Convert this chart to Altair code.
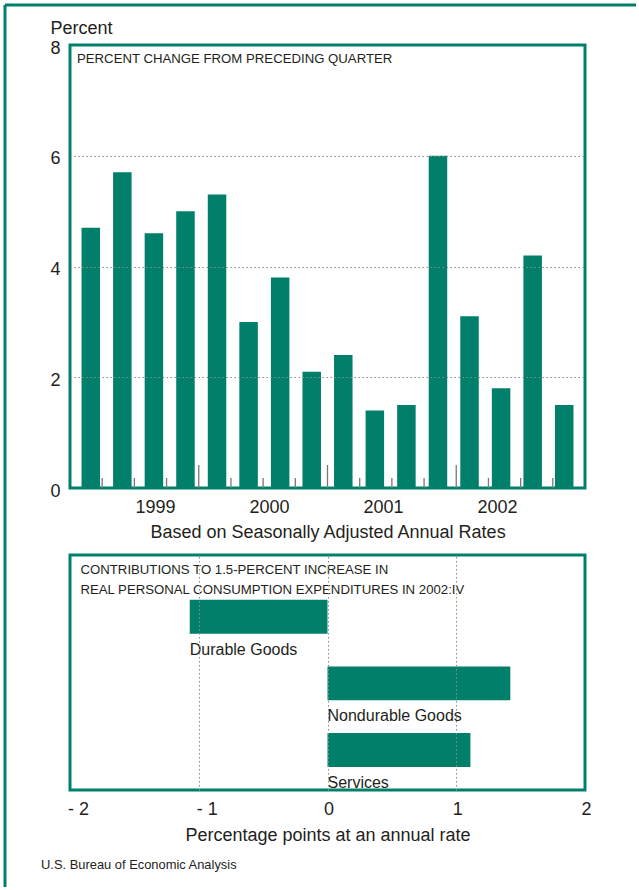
import altair as alt
import pandas as pd

GREEN = "#00806A"
INK = "#231F20"
GRID = "#8A8A8A"
TICK = "#777777"
FONT = "Liberation Sans"

# Real PCE, percent change from preceding quarter (annual rate)
quarters = [
    "1999:I", "1999:II", "1999:III", "1999:IV",
    "2000:I", "2000:II", "2000:III", "2000:IV",
    "2001:I", "2001:II", "2001:III", "2001:IV",
    "2002:I", "2002:II", "2002:III", "2002:IV",
]
pct_change = [4.7, 5.7, 4.6, 5.0, 5.3, 3.0, 3.8, 2.1,
              2.4, 1.4, 1.5, 6.0, 3.1, 1.8, 4.2, 1.5]
years = [1999, 2000, 2001, 2002]
pct_ticks = [0, 2, 4, 6, 8]

# Contributions to the 2002:IV increase, percentage points
components = ["Durable Goods", "Nondurable Goods", "Services"]
contributions = [-1.07, 1.42, 1.11]
point_ticks = [-2, -1, 0, 1, 2]

W = 515
H_TOP = 443
H_BOT = 235

n_q = len(quarters)
qdf = pd.DataFrame({"quarter": quarters, "pct": pct_change})
qdf["mid"] = [i + 0.5 for i in range(n_q)]

edges = pd.DataFrame({"edge": list(range(1, n_q))})
edges["year_start"] = edges["edge"] % 4 == 0

slot_scale = alt.Scale(domain=[0, n_q], nice=False, zero=False)


def grid_hide(a, b):
    return {
        "condition": {"test": f"datum.value == {a} || datum.value == {b}", "value": 0},
        "value": 1,
    }


bars = alt.Chart(qdf).mark_bar(width=18.5, color=GREEN).encode(
    x=alt.X("mid:Q", scale=slot_scale, axis=None),
    y=alt.Y(
        "pct:Q",
        scale=alt.Scale(domain=[0, 8], nice=False),
        axis=alt.Axis(
            values=pct_ticks, title="Percent", titleAngle=0, titleAlign="left",
            titleBaseline="alphabetic", titleX=-20, titleY=-12,
            titleFontSize=18, titleFontWeight="normal",
            labelFontSize=18, labelPadding=10, labelOffset=3,
            ticks=False, tickSize=0, domain=False,
            grid=True, gridColor=GRID, gridDash=[1.5, 2.5], gridWidth=1,
            gridOpacity=grid_hide(0, 8), zindex=1,
        ),
    ),
)

short_ticks = alt.Chart(edges[~edges["year_start"]]).mark_rule(
    color=TICK, strokeWidth=1.3
).encode(
    x=alt.X("edge:Q", scale=slot_scale, axis=None),
    y=alt.value(H_TOP), y2=alt.value(H_TOP - 10),
)

year_ticks = alt.Chart(edges[edges["year_start"]]).mark_rule(
    color=TICK, strokeWidth=1.3
).encode(
    x=alt.X("edge:Q", scale=slot_scale, axis=None),
    y=alt.value(H_TOP), y2=alt.value(H_TOP - 23),
)

# Year labels sit on their own linear scale along the bottom edge
year_axis = alt.Chart(pd.DataFrame({"year": years})).mark_text(text="").encode(
    x=alt.X(
        "year:Q",
        scale=alt.Scale(domain=[1998.254, 2002.772], nice=False, zero=False),
        axis=alt.Axis(
            orient="bottom", values=years, format="d",
            labelFontSize=18, labelPadding=10, labelFlush=False,
            ticks=False, tickSize=0, domain=False, grid=False,
            title="Based on Seasonally Adjusted Annual Rates",
            titleFontSize=18, titleFontWeight="normal", titlePadding=7,
        ),
    ),
)

top_heading = alt.Chart(pd.DataFrame({"t": ["PERCENT CHANGE FROM PRECEDING QUARTER"]})).mark_text(
    align="left", baseline="middle", font=FONT, fontSize=13.2, color=INK
).encode(x=alt.value(7), y=alt.value(14), text="t:N")

# Outer page frame (left and top edges)
frame_left = alt.Chart(pd.DataFrame({"edge": ["left"]})).mark_rule(
    color=GREEN, strokeWidth=3
).encode(x=alt.value(-65), y=alt.value(-40), y2=alt.value(842))
frame_top = alt.Chart(pd.DataFrame({"edge": ["top"]})).mark_rule(
    color=GREEN, strokeWidth=3
).encode(y=alt.value(-40), x=alt.value(-65), x2=alt.value(566))

top = alt.layer(
    bars, short_ticks, year_ticks, year_axis, top_heading, frame_left, frame_top
).resolve_scale(x="independent").properties(width=W, height=H_TOP)

cdf = pd.DataFrame({"component": components, "points": contributions})
cdf["label_x"] = cdf["points"].clip(upper=0)

comp_scale = alt.Scale(paddingInner=0.489, paddingOuter=0.511, align=0.66)

hbars = alt.Chart(cdf).mark_bar(color=GREEN).encode(
    x=alt.X(
        "points:Q",
        scale=alt.Scale(domain=[-2, 2], nice=False),
        axis=alt.Axis(
            values=point_ticks,
            labelExpr="datum.value < 0 ? '- ' + abs(datum.value) : '' + datum.value",
            labelFontSize=18, labelPadding=10, labelFlush=False,
            labelOffset={"condition": {"test": "datum.value < 0", "value": 8}, "value": 1},
            ticks=False, tickSize=0, domain=False,
            grid=True, gridColor=GRID, gridDash=[1.5, 2.5], gridWidth=1,
            gridOpacity=grid_hide(-2, 2), zindex=1,
            title="Percentage points at an annual rate",
            titleFontSize=18, titleFontWeight="normal", titlePadding=8,
        ),
    ),
    y=alt.Y("component:N", sort=components, scale=comp_scale, axis=None),
)

hlabels = alt.Chart(cdf).mark_text(
    align="left", baseline="top", dy=8, font=FONT, fontSize=16, color=INK
).encode(
    x=alt.X("label_x:Q"),
    y=alt.Y("component:N", sort=components, bandPosition=1),
    text="component:N",
)

bottom_heading = alt.Chart(pd.DataFrame({"t": ["heading"]})).mark_text(
    align="left", baseline="middle", font=FONT, fontSize=13.2, color=INK,
    lineHeight=20,
    text=["CONTRIBUTIONS TO 1.5-PERCENT INCREASE IN",
          "REAL PERSONAL CONSUMPTION EXPENDITURES IN 2002:IV"],
).encode(x=alt.value(10.5), y=alt.value(15))

source = alt.Chart(pd.DataFrame({"t": ["U.S. Bureau of Economic Analysis"]})).mark_text(
    align="left", baseline="middle", font=FONT, fontSize=12.9, color=INK
).encode(x=alt.value(-29), y=alt.value(310), text="t:N")

bottom = alt.layer(hbars, hlabels, bottom_heading, source).properties(
    width=W, height=H_BOT
)

chart = alt.vconcat(top, bottom, spacing=67, bounds="flush").properties(
    padding={"left": 2, "top": 2, "right": 0, "bottom": 0},
    background="white",
).configure_view(
    stroke=GREEN, strokeWidth=3
).configure_axis(
    labelFont=FONT, titleFont=FONT, labelColor=INK, titleColor=INK
)

chart.save("out.html", embed_options={"renderer": "svg", "actions": False})
